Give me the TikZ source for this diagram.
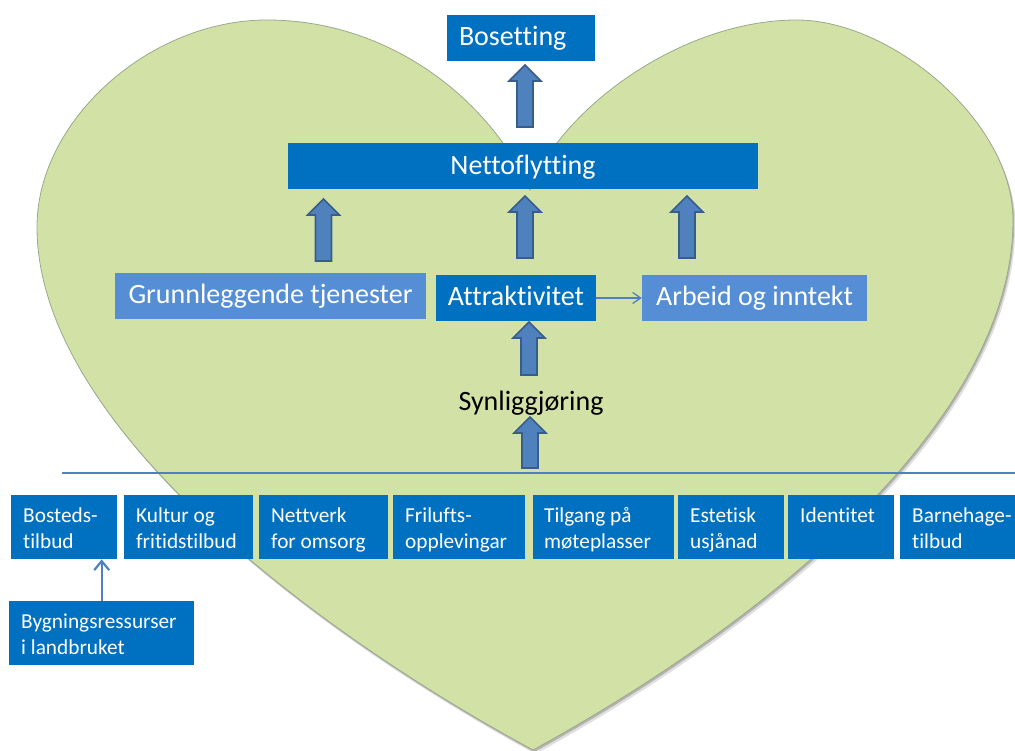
\documentclass[tikz,border=0pt]{standalone}
\usepackage{fontspec}
\setmainfont{Carlito}[Ligatures={NoCommon}]
\usetikzlibrary{arrows.meta,calc}
\definecolor{dblue}{HTML}{0070C0}
\definecolor{lblue}{HTML}{558ED5}
\definecolor{afill}{HTML}{4F81BD}
\definecolor{aline}{HTML}{385D8A}
\definecolor{heartfill}{HTML}{D2E2A6}
\definecolor{heartline}{HTML}{9CA88C}
\newcommand\blockarrow[3]{%
  \draw[barrow] ({#1-8},#2) -- ({#1-8},{#3+16}) -- ({#1-16},{#3+16}) -- (#1,#3)
    -- ({#1+16},{#3+16}) -- ({#1+8},{#3+16}) -- ({#1+8},#2) -- cycle;}
\begin{document}
\begin{tikzpicture}[x=1pt,y=-1pt,
  topbox/.style={fill=#1, text=white, inner sep=0, minimum height=46,
     text height=20, text depth=4,
     font=\fontsize{28}{33}\selectfont},
  bbox/.style={fill=dblue, inner sep=0, minimum height=64, anchor=north west},
  btext/.style={text=white, inner sep=0, anchor=north west, align=left,
     font=\fontsize{21.3}{26}\selectfont},
  barrow/.style={fill=afill, draw=aline, line width=1.6, line join=miter},
  thinarrow/.style={draw=afill, line width=1.3, -{Straight Barb[length=8pt,width=11pt]}},
  hline/.style={draw=afill, line width=1.1}]
\useasboundingbox (0,0) rectangle (1015,751);
% heart shadow
\fill[black, opacity=0.12, shift={(2.5,4)}]
  (533,750) .. controls (330,640) and (37,430) .. (37,227)
  .. controls (37,120) and (150,20) .. (267,20)
  .. controls (390,20) and (490,100) .. (530,190)
  .. controls (560,110) and (680,20) .. (797,20)
  .. controls (890,20) and (1013,120) .. (1013,220)
  .. controls (1013,420) and (770,620) .. (533,750) -- cycle;
\fill[black, opacity=0.2, shift={(1.2,2)}]
  (533,750) .. controls (330,640) and (37,430) .. (37,227)
  .. controls (37,120) and (150,20) .. (267,20)
  .. controls (390,20) and (490,100) .. (530,190)
  .. controls (560,110) and (680,20) .. (797,20)
  .. controls (890,20) and (1013,120) .. (1013,220)
  .. controls (1013,420) and (770,620) .. (533,750) -- cycle;
% heart
\draw[draw=heartline, fill=heartfill, line width=0.8]
  (533,750) .. controls (330,640) and (37,430) .. (37,227)
  .. controls (37,120) and (150,20) .. (267,20)
  .. controls (390,20) and (490,100) .. (530,190)
  .. controls (560,110) and (680,20) .. (797,20)
  .. controls (890,20) and (1013,120) .. (1013,220)
  .. controls (1013,420) and (770,620) .. (533,750) -- cycle;
% top boxes
\node[topbox=dblue, minimum width=148, text width=124, inner xsep=12, align=left] (bos) at (521,38) {Bosetting};
\node[topbox=dblue, minimum width=470] (net) at (523,166.5) {Nettoflytting};
\node[topbox=lblue, minimum width=311] (gru) at (270.5,296) {Grunnleggende tjenester};
\node[topbox=dblue, minimum width=160] (att) at (516,298) {Attraktivitet};
\node[topbox=lblue, minimum width=225] (arb) at (754.5,298) {Arbeid og inntekt};
\node[font=\fontsize{28}{33}\selectfont, inner sep=0] (syn) at (531,403) {Synliggjøring};
% block arrows
\blockarrow{525}{127}{65}
\blockarrow{323.5}{261}{199}
\blockarrow{525}{258}{196}
\blockarrow{687}{258}{196}
\blockarrow{529}{375}{322}
\blockarrow{530}{468}{417}
% thin connector
\draw[thinarrow] (att.east) -- (arb.west);
% separator
\draw[hline] (62,473) -- (1015,473);
% bottom boxes
\node[bbox, minimum width=106] (b1) at (11,495) {};
\node[bbox, minimum width=129] (b2) at (124,495) {};
\node[bbox, minimum width=129] (b3) at (259,495) {};
\node[bbox, minimum width=132] (b4) at (393,495) {};
\node[bbox, minimum width=141] (b5) at (533,495) {};
\node[bbox, minimum width=106] (b6) at (678,495) {};
\node[bbox, minimum width=106] (b7) at (788,495) {};
\node[bbox, minimum width=115] (b8) at (900,495) {};
\node[bbox, minimum width=185] (by) at (9,601) {};
\node[btext] (t1) at ($(b1.north west)+(12,8.8)$) {\strut Bosteds-\\tilbud};
\node[btext] (t2) at ($(b2.north west)+(12,8.8)$) {\strut Kultur og\\fritidstilbud};
\node[btext] (t3) at ($(b3.north west)+(12,8.8)$) {\strut Nettverk\\for omsorg};
\node[btext] (t4) at ($(b4.north west)+(12,8.8)$) {\strut Frilufts-\\opplevingar};
\node[btext] (t5) at ($(b5.north west)+(11,8.8)$) {\strut Tilgang på\\møteplasser};
\node[btext] (t6) at ($(b6.north west)+(12,8.8)$) {\strut Estetisk\\usjånad};
\node[btext] (t7) at ($(b7.north west)+(12,8.8)$) {\strut Identitet};
\node[btext] (t8) at ($(b8.north west)+(12,8.8)$) {\strut Barnehage-\\tilbud};
\node[btext] (ty) at ($(by.north west)+(12,8.8)$) {\strut Bygningsressurser\\i landbruket};
\draw[draw=afill, line width=2.2, -{Straight Barb[length=9pt,width=15pt]}] (by.north) -- (by.north |- b1.south);
\end{tikzpicture}
\end{document}
